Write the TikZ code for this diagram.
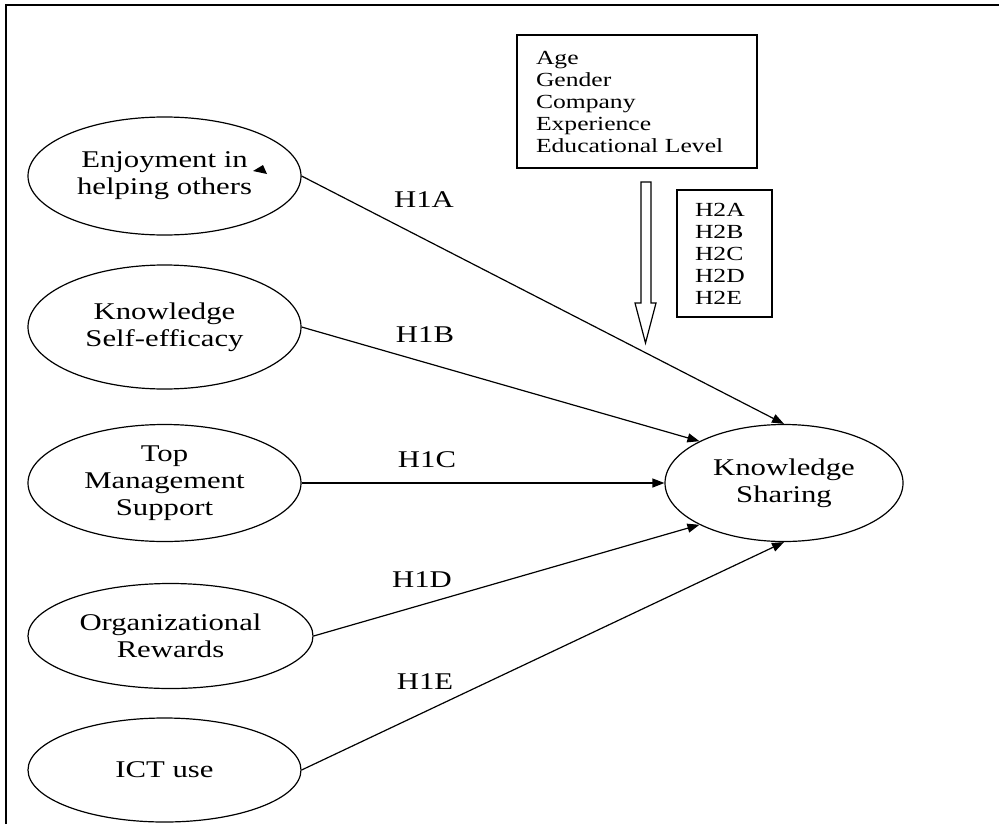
\documentclass[tikz,border=0pt]{standalone}
\usepackage{fontspec}
\setmainfont[FakeStretch=1.28]{Liberation Serif}
\usetikzlibrary{arrows.meta,shapes.geometric}

\begin{document}
\begin{tikzpicture}[x=0.5pt,y=-0.5pt,font=\fontsize{12}{13.5}\selectfont]
    \tikzstyle{factor}=[ellipse,draw,line width=0.6pt,inner sep=0pt,align=center,minimum width=136.5pt]
    \tikzstyle{listbox}=[rectangle,draw,line width=0.6pt,align=left,inner ysep=0pt,font=\fontsize{10}{11}\selectfont]
    \tikzstyle{path}=[line width=0.6pt,-{Triangle[length=6pt,width=4.5pt]}]
    \useasboundingbox (0,0) rectangle (999,824);
    \draw[line width=1pt] (6,824) -- (6,5) -- (999,5);
    % factors on the left
    \node [factor,minimum height=59pt] (enjoy) at (164.5,176) {Enjoyment in\\helping others};
    \node [factor,minimum height=62pt] (selfeff) at (164.5,327) {Knowledge\\Self-efficacy};
    \node [factor,minimum height=58.5pt] (topmgmt) at (164.5,483) {Top\\Management\\Support};
    \node [factor,minimum width=142.5pt,minimum height=52.5pt] (orgrew) at (170.5,636) {Organizational\\Rewards};
    \node [factor,minimum height=52pt] (ictuse) at (164.5,770) {ICT use};
    \node [factor,minimum width=119pt,minimum height=58.5pt] (sharing) at (784,483) {Knowledge\\Sharing};
    \fill (253,171) -- (263,165) -- (267,174) -- cycle;
    % moderators
    \node [listbox,text width=101pt,inner xsep=9.5pt,minimum height=66.5pt] (demog) at (637,101.5) {Age\\Gender\\Company\\Experience\\Educational Level};
    \node [listbox,text width=29.5pt,inner xsep=9pt,minimum height=63.5pt] (hyptwo) at (724.5,253.5) {H2A\\H2B\\H2C\\H2D\\H2E};
    \draw [line width=0.6pt] (641,182) -- (651,182) -- (651,303) -- (656,303) -- (645.5,343) -- (635,303) -- (641,303) -- cycle;
    % hypotheses
    \draw [path] (enjoy.east) -- (sharing.north);
    \draw [path] (selfeff.east) -- (sharing.north west);
    \draw [path] (topmgmt.east) -- (sharing.west);
    \draw [path] (orgrew.east) -- (sharing.south west);
    \draw [path] (ictuse.east) -- (sharing.south);
    \node (hia) at (424,200) {H1A};
    \node (hib) at (425,335) {H1B};
    \node (hic) at (427,460) {H1C};
    \node (hid) at (422,580) {H1D};
    \node (hie) at (425,682) {H1E};
  \end{tikzpicture}
\end{document}
